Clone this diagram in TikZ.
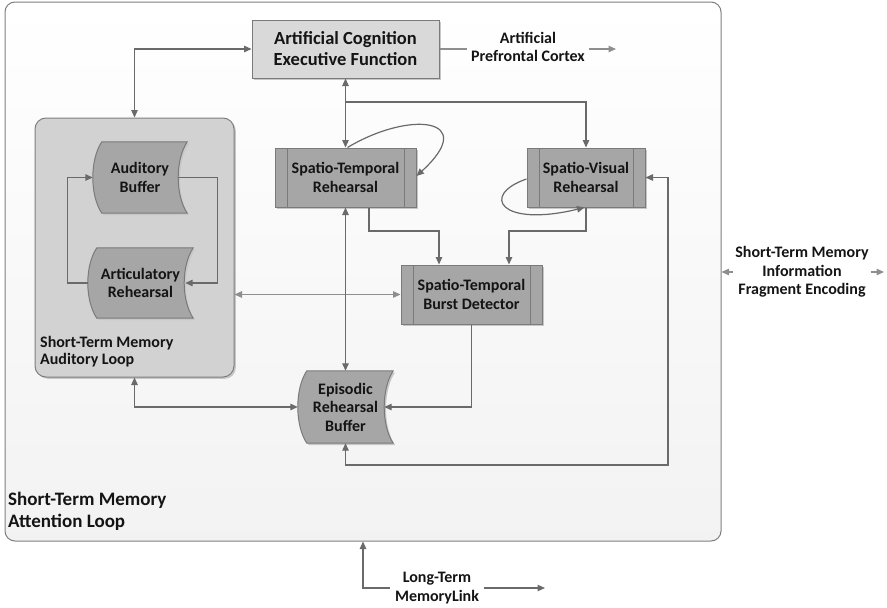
\documentclass[tikz,border=0pt]{standalone}
\usepackage{fontspec}
\setmainfont{Carlito}
\usetikzlibrary{arrows.meta,shadows}
\pgfdeclarelayer{back}
\pgfdeclarelayer{shapes}
\pgfsetlayers{back,shapes,main}

\definecolor{wire}{HTML}{6A6A6A}
\definecolor{wirelight}{HTML}{8E8E8E}
\definecolor{boxfill}{HTML}{A6A6A6}
\definecolor{boxline}{HTML}{7A7A7A}
\definecolor{execfill}{HTML}{D9D9D9}
\definecolor{loopfill}{HTML}{D2D2D2}
\definecolor{frame}{HTML}{7F7F7F}
\definecolor{ink}{HTML}{141414}

% stored-data outline drawn around a named text node
\newcommand\storedshape[1]{%
  \path[stored] ([xshift=9pt]#1.north west) -- (#1.north east)
    .. controls ([xshift=-12pt,yshift=-18pt]#1.north east) and ([xshift=-12pt,yshift=18pt]#1.south east) .. (#1.south east)
    -- ([xshift=9pt]#1.south west)
    .. controls ([xshift=-3pt,yshift=18pt]#1.south west) and ([xshift=-3pt,yshift=-18pt]#1.north west) .. ([xshift=9pt]#1.north west)
    -- cycle;}

\tikzset{
  wiring/.style={draw=wire, line width=1.2pt},
  tipa/.style={-{Triangle[length=7.5pt,width=6.5pt]}},
  tipb/.style={{Triangle[length=7.5pt,width=6.5pt]}-{Triangle[length=7.5pt,width=6.5pt]}},
  boxfont/.style={font=\bfseries\fontsize{16}{18.5}\selectfont, text=ink, align=center},
  labelfont/.style={font=\bfseries\fontsize{16}{17.5}\selectfont, text=ink},
  shadowed/.style={drop shadow={shadow xshift=1.8pt, shadow yshift=-1.8pt, fill=black!22, opacity=1}},
  procbox/.style={boxfont, draw=boxline, line width=1pt, fill=boxfill, minimum height=59pt, inner sep=0pt, shadowed,
    path picture={
      \draw[boxline, line width=1pt] ([xshift=12pt]path picture bounding box.north west) -- ([xshift=12pt]path picture bounding box.south west);
      \draw[boxline, line width=1pt] ([xshift=-12pt]path picture bounding box.north east) -- ([xshift=-12pt]path picture bounding box.south east);}},
  storedtext/.style={boxfont, inner sep=0pt},
  stored/.style={draw=boxline, line width=1pt, fill=boxfill, shadowed},
}

\begin{document}
\begin{tikzpicture}[x=1pt,y=-1pt]
\useasboundingbox (0,0) rectangle (887,608);

% containers
\begin{pgfonlayer}{back}
  \node[draw=frame, line width=1pt, top color=white, bottom color=black!5, rounded corners=10pt,
        minimum width=716pt, minimum height=539pt, inner sep=0pt] (attn) at (363,271.5) {};
  \node[draw=frame, line width=1pt, fill=loopfill, rounded corners=11pt, shadowed,
        minimum width=199pt, minimum height=259pt, inner sep=0pt] (aud) at (134.5,247.5) {};
\end{pgfonlayer}

\node[font=\bfseries\fontsize{19}{22}\selectfont, text=ink, anchor=west, align=left, inner sep=0pt] (attnlbl) at (8,511) {Short-Term Memory\\Attention Loop};
\node[labelfont, anchor=west, align=left, inner sep=0pt] (audlbl) at (40,351.5) {Short-Term Memory\\Auditory Loop};

% executive
\node[draw=boxline, line width=1pt, fill=execfill, shadowed, minimum width=187pt, minimum height=58pt, inner sep=0pt,
      font=\bfseries\fontsize{18.5}{21}\selectfont, text=ink, align=center] (exec) at (345.5,49) {Artificial Cognition\\Executive Function};
\node[boxfont, inner xsep=4pt, inner ysep=0pt] (apc) at (528,47) {Artificial\\Prefrontal Cortex};

% process boxes
\node[procbox, minimum width=141pt] (str) at (345.5,177.5) {Spatio-Temporal\\Rehearsal};
\node[procbox, minimum width=118pt] (svr) at (586,177.5) {Spatio-Visual\\Rehearsal};
\node[procbox, minimum width=141pt] (bd) at (471.5,294.5) {Spatio-Temporal\\Burst Detector};

% stored-data buffers
\node[storedtext, minimum width=94pt, minimum height=71pt] (ab) at (140,177.5) {Auditory\\Buffer};
\node[storedtext, minimum width=105pt, minimum height=70pt] (ar) at (140.5,283) {Articulatory\\Rehearsal};
\node[storedtext, minimum width=95pt, minimum height=72pt] (ep) at (345.5,407) {Episodic\\Rehearsal\\Buffer};
\begin{pgfonlayer}{shapes}
  \storedshape{ab}
  \storedshape{ar}
  \storedshape{ep}
\end{pgfonlayer}

% outside labels
\node[boxfont, inner xsep=2pt, inner ysep=0pt] (stmi) at (802,272) {Short-Term Memory\\Information\\Fragment Encoding};
\node[boxfont, inner xsep=5pt, inner ysep=0pt] (ltm) at (437,588) {Long-Term\\MemoryLink};

\coordinate (branch) at (345.5,102);
\coordinate (loopcorner) at (668,465);
\coordinate (pfcout) at (616,49);
\coordinate (stmiout) at (884,272);
\coordinate (ltmup) at (363,541.5);
\coordinate (ltmout) at (545,588);

% connectors
\draw[wiring, tipb] (aud.north) |- (exec.west);
\draw[wiring, tipb] (exec.south) -- (str.north);
\draw[wiring, tipa] (branch) -| (svr.north);
\draw[wiring, tipa] ([xshift=2pt]str.north) .. controls (410,110) and (480,118) .. ([yshift=1.5pt]str.east);
\draw[wiring, tipa] ([yshift=-1.5pt]svr.west) .. controls (480,195) and (500,228) .. ([xshift=-1.5pt]svr.south);
\draw[wiring, tipa] ([xshift=23.5pt]str.south) -- ++(0,23.5) -| ([xshift=-32.5pt]bd.north);
\draw[wiring, tipa] (svr.south) -- ++(0,23.5) -| ([xshift=37.5pt]bd.north);
\draw[draw=wirelight, line width=1.3pt, tipb] (aud.east |- bd.west) -- (bd.west);
\draw[wiring, tipb] (str.south) -- (ep.north);
\draw[wiring, tipa] (bd.south) |- ([xshift=-9pt]ep.east);
\draw[wiring, tipb] (aud.south) |- (ep.west);
\draw[wiring, tipb] (ep.south) |- (loopcorner) |- (svr.east);

% auditory rehearsal loop
\draw[wiring, tipa] ([xshift=-9pt]ab.east) -| ([xshift=24pt]ar.east) -- ([xshift=-8pt]ar.east);
\draw[wiring, tipa] (ar.west) -| ([xshift=-25pt]ab.west) -- (ab.west);

% links leaving the attention loop
\draw[draw=wirelight, line width=1.2pt] (exec.east) -- (exec.east -| apc.west);
\draw[draw=wirelight, line width=1.2pt, tipa] (apc.east |- exec.east) -- (pfcout);
\draw[draw=wirelight, line width=1.2pt, tipa] (stmi.west) -- (attn.east |- stmi.west);
\draw[draw=wirelight, line width=1.2pt, tipa] (stmi.east) -- (stmiout);
\draw[wiring, tipa] (ltm.west) -| (ltmup);
\draw[wiring, tipa] (ltm.east) -- (ltmout);
\end{tikzpicture}
\end{document}
